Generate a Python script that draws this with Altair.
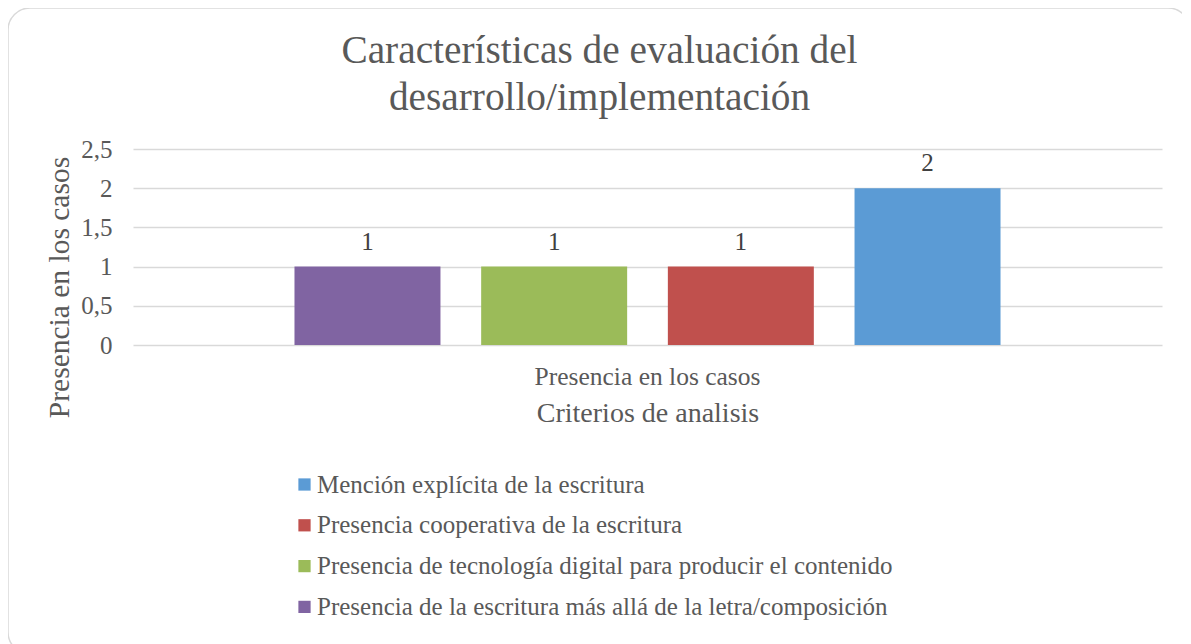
import altair as alt
import pandas as pd

categoria = ["Presencia en los casos"]
series = [
    "Mención explícita de la escritura",
    "Presencia cooperativa de la escritura",
    "Presencia de tecnología digital para  producir el contenido",
    "Presencia de la escritura más allá de la letra/composición",
]
valores = [2, 1, 1, 1]
colores = ["#5B9BD5", "#C0504D", "#9BBB59", "#8064A2"]
orden_barras = list(reversed(series))
ticks_y = [0, 0.5, 1, 1.5, 2, 2.5]

df = pd.DataFrame({
    "cat": categoria * len(series),
    "serie": series,
    "valor": valores,
})

FONT = "Liberation Serif"
GRAY = "#595959"

base = alt.Chart(df).encode(
    x=alt.X(
        "cat:N",
        scale=alt.Scale(paddingInner=0, paddingOuter=0),
        axis=alt.Axis(
            title="Criterios de analisis",
            labelAngle=0,
            domain=False,
            ticks=False,
            labelPadding=19,
            labelFontSize=25.5,
            labelColor=GRAY,
            labelLimit=600,
            titleFontSize=28,
            titleColor=GRAY,
            titleFontWeight="normal",
            titlePadding=10,
        ),
    ),
    xOffset=alt.XOffset(
        "serie:N", sort=orden_barras,
        scale=alt.Scale(paddingInner=0.218, paddingOuter=0.865),
    ),
    y=alt.Y(
        "valor:Q",
        scale=alt.Scale(domain=[0, 2.5], nice=False),
        axis=alt.Axis(
            values=ticks_y,
            labelExpr="replace(toString(datum.value), '.', ',')",
            title="Presencia en los casos",
            domain=False,
            ticks=False,
            labelPadding=21,
            labelFontSize=25,
            labelColor=GRAY,
            gridColor="#D9D9D9",
            gridWidth=1.3,
            titleFontSize=29.5,
            titleColor=GRAY,
            titleFontWeight="normal",
            titleAngle=270,
            titleAlign="center",
            titleBaseline="middle",
            titleX=-74,
            titleY=138,
        ),
    ),
)

bars = base.mark_bar().encode(
    color=alt.Color(
        "serie:N",
        scale=alt.Scale(domain=series, range=colores),
        legend=alt.Legend(
            title=None,
            orient="none",
            legendX=159,
            legendY=323,
            direction="vertical",
            symbolType="square",
            symbolSize=150,
            symbolStrokeWidth=0,
            labelFontSize=25,
            labelColor=GRAY,
            labelOffset=0,
            rowPadding=14.8,
            labelLimit=900,
        ),
    )
)

labels = base.mark_text(baseline="bottom", dy=-12, fontSize=25, color="#404040").encode(
    text=alt.Text("valor:Q")
)

frame = alt.Chart(pd.DataFrame({"a": [0]})).mark_rect(
    fillOpacity=0, stroke="#D9D9D9", strokeWidth=1.5, cornerRadius=22
).encode(
    x=alt.value(-125), y=alt.value(-141), x2=alt.value(1057), y2=alt.value(505)
)

chart = alt.layer(frame, bars, labels).properties(
    width=1029,
    height=196,
    autosize=alt.AutoSizeParams(type="none"),
    padding={"left": 125, "top": 141, "right": 20, "bottom": 300},
    title=alt.TitleParams(
        text=["Características de evaluación del", "desarrollo/implementación"],
        anchor="middle",
        fontSize=39.3,
        font=FONT,
        color=GRAY,
        fontWeight="normal",
        baseline="alphabetic",
        offset=-142,
        dx=-48,
        lineHeight=47,
    ),
).configure(font=FONT).configure_view(stroke=None)

chart.save("out.html", embed_options={"renderer": "svg", "actions": False})
